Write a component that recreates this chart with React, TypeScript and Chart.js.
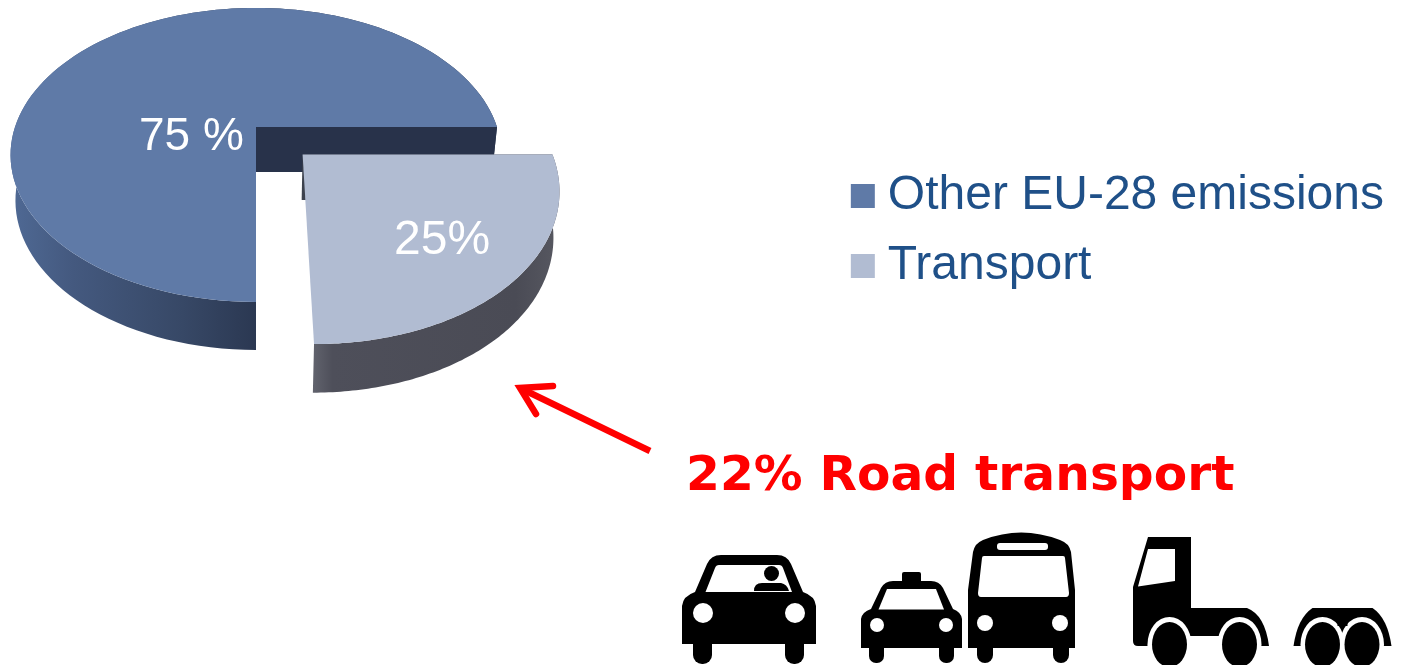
import React, { useEffect, useRef } from "react";
import { Chart, registerables } from "chart.js";

Chart.register(...registerables);

const categories = ["Other EU-28 emissions", "Transport"];
const shares = [75, 25];
const sliceLabels = ["75 %", "25%"];
const callout = "22% Road transport";

const topColors = ["#5f7aa7", "#b1bcd2"];
const W = 1406;
const H = 665;

// perspective of the tilted pie: unit circle -> page
const CX = 256;
const HALF_W = 241;
const TIP_Y = 127;
const SLOPE = 117.6;
const PERSP = -0.19;
const project = (u: number, v: number) => {
  const d = 1 + PERSP * v;
  return { x: CX + (HALF_W * u) / d, y: (SLOPE * v + TIP_Y) / d };
};
const lower = (p: { x: number; y: number }, v: number) => ({
  x: CX + (p.x - CX) * 0.98,
  y: p.y + 45 + 3 * v,
});

function arcGeometry(el: any) {
  const { startAngle, endAngle, outerRadius } = el.getProps(["startAngle", "endAngle", "outerRadius"], true);
  const mid = (startAngle + endAngle) / 2;
  const off = (el.options.offset || 0) / outerRadius;
  const du = Math.cos(mid) * off;
  const dv = Math.sin(mid) * off;
  const rim: { x: number; y: number; v: number }[] = [];
  const steps = 120;
  for (let i = 0; i <= steps; i++) {
    const a = startAngle + ((endAngle - startAngle) * i) / steps;
    const v = Math.sin(a) + dv;
    rim.push({ ...project(Math.cos(a) + du, v), v });
  }
  return { rim, tip: { ...project(du, dv), v: dv } };
}

function poly(ctx: CanvasRenderingContext2D, pts: { x: number; y: number }[], fill: any) {
  ctx.beginPath();
  pts.forEach((p, i) => (i ? ctx.lineTo(p.x, p.y) : ctx.moveTo(p.x, p.y)));
  ctx.closePath();
  ctx.fillStyle = fill;
  ctx.fill();
}

function hGrad(ctx: CanvasRenderingContext2D, x0: number, x1: number, stops: [number, string][]) {
  const g = ctx.createLinearGradient(x0, 0, x1, 0);
  stops.forEach(([o, c]) => g.addColorStop(o, c));
  return g;
}

const pie3d = {
  id: "pie3d",
  beforeDatasetsDraw(chart: any) {
    const ctx: CanvasRenderingContext2D = chart.ctx;
    const arcs = chart.getDatasetMeta(0).data;
    ctx.save();
    const wallFills = [
      hGrad(ctx, 12, 256, [[0, "#4f6994"], [0.25, "#44597f"], [0.7, "#374866"], [1, "#2b3852"]]),
      hGrad(ctx, 308, 552, [[0, "#666872"], [0.1, "#4e4f5a"], [0.85, "#4a4b55"], [1, "#55565f"]]),
    ];
    arcs.forEach((el: any, i: number) => {
      const { rim, tip } = arcGeometry(el);
      const low = rim.map((p) => lower(p, p.v)).reverse();
      poly(ctx, [...rim, ...low], wallFills[i]);
      if (i === 1) {
        // cut face of the pulled-out slice, seen at the left
        const first = rim[0];
        poly(ctx, [tip, first, lower(first, first.v), lower(tip, tip.v)], "#3d424e");
      }
      poly(ctx, [tip, ...rim], topColors[i]);
      if (i === 0) {
        // cut face under the blue slice
        const last = rim[rim.length - 1];
        poly(ctx, [tip, last, lower(last, last.v), lower(tip, tip.v)], "#28324a");
      }
    });
    ctx.fillStyle = "#ffffff";
    ctx.textBaseline = "alphabetic";
    ctx.textAlign = "left";
    ctx.font = '46px "Liberation Sans"';
    ctx.fillText(sliceLabels[0], 139, 150);
    ctx.font = '48px "Liberation Sans"';
    ctx.fillText(sliceLabels[1], 394, 254);
    ctx.restore();
    return false;
  },
};

function roundRect(ctx: CanvasRenderingContext2D, x: number, y: number, w: number, h: number, r: any) {
  ctx.beginPath();
  ctx.roundRect(x, y, w, h, r);
  ctx.fill();
}
function disc(ctx: CanvasRenderingContext2D, x: number, y: number, rx: number, ry = rx) {
  ctx.beginPath();
  ctx.ellipse(x, y, rx, ry, 0, 0, Math.PI * 2);
  ctx.fill();
}

function drawCar(ctx: CanvasRenderingContext2D) {
  ctx.fillStyle = "#000";
  roundRect(ctx, 694, 630, 19, 34, [0, 0, 9, 9]);
  roundRect(ctx, 786, 630, 19, 34, [0, 0, 9, 9]);
  ctx.beginPath();
  ctx.moveTo(683, 644);
  ctx.lineTo(683, 606);
  ctx.quadraticCurveTo(684, 596, 696, 592);
  ctx.lineTo(708, 564);
  ctx.quadraticCurveTo(712, 555, 722, 555);
  ctx.lineTo(778, 555);
  ctx.quadraticCurveTo(788, 555, 792, 564);
  ctx.lineTo(804, 592);
  ctx.quadraticCurveTo(816, 596, 817, 606);
  ctx.lineTo(817, 644);
  ctx.closePath();
  ctx.fill();
  ctx.fillStyle = "#fff";
  ctx.beginPath();
  ctx.moveTo(706.5, 592);
  ctx.lineTo(716, 568);
  ctx.quadraticCurveTo(717, 565, 720, 565);
  ctx.lineTo(780, 565);
  ctx.quadraticCurveTo(783, 565, 784, 568);
  ctx.lineTo(793, 592);
  ctx.closePath();
  ctx.fill();
  disc(ctx, 704, 613, 10);
  disc(ctx, 796, 613, 10);
  ctx.fillStyle = "#000";
  disc(ctx, 772.5, 573.5, 7.5);
  ctx.beginPath();
  ctx.moveTo(755, 591);
  ctx.quadraticCurveTo(755, 583, 763, 583);
  ctx.lineTo(782, 583);
  ctx.quadraticCurveTo(788, 584, 790, 591);
  ctx.closePath();
  ctx.fill();
}

function drawTaxi(ctx: CanvasRenderingContext2D) {
  ctx.fillStyle = "#000";
  roundRect(ctx, 872, 635, 15, 28, [0, 0, 7, 7]);
  roundRect(ctx, 942, 635, 15, 28, [0, 0, 7, 7]);
  roundRect(ctx, 905, 572, 19, 14, 2);
  ctx.beginPath();
  ctx.moveTo(864, 648);
  ctx.lineTo(864, 619);
  ctx.quadraticCurveTo(865, 612, 874, 609);
  ctx.lineTo(884, 588);
  ctx.quadraticCurveTo(888, 581, 896, 581);
  ctx.lineTo(934, 581);
  ctx.quadraticCurveTo(942, 581, 946, 588);
  ctx.lineTo(956, 609);
  ctx.quadraticCurveTo(964, 612, 965, 619);
  ctx.lineTo(965, 648);
  ctx.closePath();
  ctx.fill();
  ctx.fillStyle = "#fff";
  poly(ctx, [{ x: 881.5, y: 609.5 }, { x: 890, y: 589 }, { x: 939, y: 589 }, { x: 947, y: 609.5 }], "#fff");
  disc(ctx, 880, 625, 7);
  disc(ctx, 949, 625, 7);
}

function drawBus(ctx: CanvasRenderingContext2D) {
  ctx.fillStyle = "#000";
  roundRect(ctx, 979, 635, 16, 28, [0, 0, 8, 8]);
  roundRect(ctx, 1055, 635, 16, 28, [0, 0, 8, 8]);
  ctx.beginPath();
  ctx.moveTo(970, 648);
  ctx.lineTo(970, 590);
  ctx.lineTo(975, 552);
  ctx.quadraticCurveTo(977, 543, 985, 540);
  ctx.quadraticCurveTo(1023, 525, 1062, 540);
  ctx.quadraticCurveTo(1071, 543, 1073, 552);
  ctx.lineTo(1077, 590);
  ctx.lineTo(1077, 648);
  ctx.closePath();
  ctx.fill();
  ctx.fillStyle = "#fff";
  roundRect(ctx, 999, 543, 51, 7, 3);
  ctx.beginPath();
  ctx.moveTo(986, 556);
  ctx.lineTo(1065, 556);
  ctx.quadraticCurveTo(1067, 556, 1067, 558);
  ctx.lineTo(1071, 593);
  ctx.quadraticCurveTo(1071, 597, 1068, 597);
  ctx.lineTo(983, 597);
  ctx.quadraticCurveTo(980, 597, 980, 593);
  ctx.lineTo(984, 558);
  ctx.quadraticCurveTo(984, 556, 986, 556);
  ctx.fill();
  disc(ctx, 987, 623, 8);
  disc(ctx, 1062, 623, 8);
}

function wheel(ctx: CanvasRenderingContext2D, x: number) {
  ctx.fillStyle = "#fff";
  disc(ctx, x, 644.5, 22, 27.5);
  ctx.fillStyle = "#000";
  disc(ctx, x, 644.5, 17.5, 22.5);
}

function drawTruck(ctx: CanvasRenderingContext2D) {
  ctx.fillStyle = "#000";
  ctx.beginPath();
  ctx.moveTo(1149, 537);
  ctx.lineTo(1192, 537);
  ctx.lineTo(1192, 608);
  ctx.lineTo(1248, 608);
  ctx.quadraticCurveTo(1266, 615, 1270, 646);
  ctx.lineTo(1240, 646);
  ctx.lineTo(1240, 636);
  ctx.lineTo(1170, 636);
  ctx.lineTo(1148, 646);
  ctx.lineTo(1139, 646);
  ctx.quadraticCurveTo(1134, 646, 1134, 641);
  ctx.lineTo(1134, 587);
  ctx.closePath();
  ctx.fill();
  poly(ctx, [{ x: 1149, y: 549 }, { x: 1176, y: 549 }, { x: 1176, y: 581 }, { x: 1139, y: 586.5 }], "#fff");
  ctx.fillStyle = "#fff";
  ctx.fillRect(1147, 646, 126, 20);
  wheel(ctx, 1170.5);
  wheel(ctx, 1240.5);
}

function drawTrailer(ctx: CanvasRenderingContext2D) {
  ctx.fillStyle = "#000";
  ctx.beginPath();
  ctx.moveTo(1297, 646);
  ctx.quadraticCurveTo(1301, 618, 1316, 608);
  ctx.lineTo(1376, 608);
  ctx.quadraticCurveTo(1391, 618, 1395, 646);
  ctx.closePath();
  ctx.fill();
  wheel(ctx, 1326);
  wheel(ctx, 1365.5);
  ctx.fillStyle = "#000";
  ctx.fillRect(1341, 620, 10, 6);
}

function shifted(ctx: CanvasRenderingContext2D, dx: number, draw: (c: CanvasRenderingContext2D) => void) {
  ctx.save();
  ctx.translate(dx, 0);
  draw(ctx);
  ctx.restore();
}

const annotations = {
  id: "annotations",
  afterDraw(chart: any) {
    const ctx: CanvasRenderingContext2D = chart.ctx;
    ctx.save();
    ctx.strokeStyle = "#ff0000";
    ctx.lineWidth = 6.5;
    ctx.lineCap = "butt";
    ctx.beginPath();
    ctx.moveTo(650, 451);
    ctx.lineTo(522, 389);
    ctx.stroke();
    ctx.lineCap = "round";
    ctx.lineJoin = "miter";
    ctx.beginPath();
    ctx.moveTo(553, 386);
    ctx.lineTo(520, 388);
    ctx.lineTo(536, 414);
    ctx.stroke();
    ctx.fillStyle = "#ff0000";
    ctx.textAlign = "left";
    ctx.textBaseline = "alphabetic";
    ctx.font = 'bold 48.7px "DejaVu Sans"';
    ctx.fillText(callout, 686, 490);
    shifted(ctx, -1, drawCar);
    shifted(ctx, -3, drawTaxi);
    shifted(ctx, -2, drawBus);
    shifted(ctx, -1, drawTruck);
    shifted(ctx, -3.5, drawTrailer);
    ctx.restore();
  },
};

export default function App() {
  const ref = useRef<HTMLCanvasElement>(null);
  useEffect(() => {
    const chart = new Chart(ref.current!, {
      type: "pie",
      data: {
        labels: categories,
        datasets: [
          {
            data: shares,
            backgroundColor: topColors,
            borderWidth: 0,
            offset: [0, 60],
          },
        ],
      },
      options: {
        animation: false,
        responsive: false,
        rotation: 180,
        layout: { padding: { top: 150, right: 12 } },
        plugins: {
          tooltip: { enabled: false },
          legend: {
            position: "right",
            align: "start",
            labels: {
              usePointStyle: true,
              pointStyle: "rect",
              boxWidth: 2,
              boxHeight: 24,
              padding: 22,
              color: "#1f5088",
              font: { family: '"Liberation Sans"', size: 48 },
            },
          },
        },
      },
      plugins: [pie3d, annotations],
    } as any);
    return () => chart.destroy();
  }, []);
  return (
    <div style={{ position: "absolute", left: 0, top: 0, width: W, height: H, background: "#fff" }}>
      <canvas ref={ref} width={W} height={H} style={{ display: "block" }} />
    </div>
  );
}
